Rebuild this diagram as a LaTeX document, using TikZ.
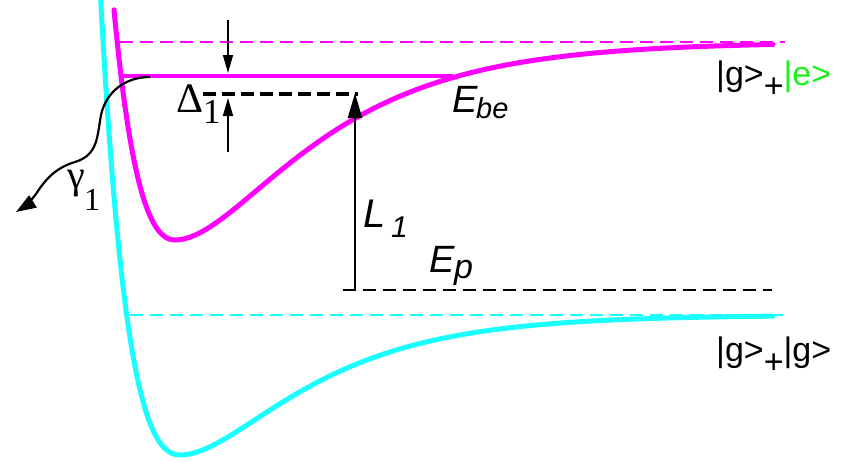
\documentclass[tikz,border=0pt]{standalone}
\usepackage{fontspec}
\setmainfont{Liberation Sans}
\newfontfamily\serifgr{Liberation Serif}
\usetikzlibrary{arrows.meta}
\definecolor{mag}{rgb}{1,0,1}
\definecolor{cyn}{rgb}{0.1,1,1}
\definecolor{grn}{rgb}{0.1,0.95,0.1}
\tikzset{
  magcurve/.style={draw=mag, line width=5pt, line join=round, line cap=round},
  cyancurve/.style={draw=cyn, line width=5pt, line join=round, line cap=round},
  dsh/.style={dash pattern=on 13pt off 7pt},
  arr/.style={-{Triangle[length=18pt,width=10pt]}, line width=1.5pt},
  bigarr/.style={-{Triangle[length=25pt,width=14pt]}, line width=2pt},
  lbl/.style={inner sep=0pt, anchor=base west},
  fs/.style={font=\fontsize{#1}{#1}\selectfont},
  fi/.style={font=\itshape\fontsize{#1}{#1}\selectfont},
  fg/.style={font=\serifgr\fontsize{#1}{#1}\selectfont},
}
\begin{document}
\begin{tikzpicture}[x=1pt,y=-1pt]
\useasboundingbox (0,0) rectangle (841,461);
% dashed asymptotes
\draw[mag, line width=2pt, dsh] (120,42) coordinate (md1) -- (785,42) coordinate (md2);
\draw[cyn, line width=2pt, dsh] (130,315) coordinate (cd1) -- (785,315) coordinate (cd2);
\draw[black, line width=2pt, dsh] (343,290) coordinate (ep1) -- (772,290) coordinate (ep2);
% cyan curve (ground state potential)
\draw[cyancurve] plot[domain=100.5:180, samples=60] (\x,{455-140*(1-exp(0.013*(180-\x)))^2})
  -- plot[domain=180:773, samples=120] (\x,{455-140*(1-exp(-0.0093*(\x-180)))^2});
% magenta curve (excited state potential)
\draw[magcurve] plot[domain=114:175, samples=60] (\x,{240-198*(1-exp(0.012*(175-\x)))^2})
  -- plot[domain=175:773, samples=120] (\x,{240-198*(1-exp(-0.0085*(\x-175)))^2});
% bound level
\draw[mag, line width=4pt] (122,76) coordinate (bl1) -- (453,76) coordinate (bl2);
% photoassociation level
\draw[black, line width=4pt, dash pattern=on 13pt off 6pt] (203,94) coordinate (pl1) -- (358,94) coordinate (pl2);
% Delta arrows
\coordinate (da1) at (228,20); \coordinate (da2) at (228,73);
\coordinate (ua1) at (228,152); \coordinate (ua2) at (228,98);
\draw[arr] (da1) -- (da2);
\draw[arr] (ua1) -- (ua2);
% L1 arrow
\coordinate (lb) at (355,290); \coordinate (lt) at (355,93);
\draw[black, line width=2pt] (ep1) -- (lb);
\draw[bigarr] (lb) -- (lt);
% gamma wave
\coordinate (g0) at (150,77); \coordinate (gt) at (16,212);
\draw[line width=2.2pt, -{Triangle[length=20pt,width=14pt]}] (g0)
  .. controls (125,77) and (106,92) .. (101,115)
  .. controls (97,137) and (98,155) .. (75,162)
  .. controls (55,168) and (45,180) .. (36,194)
  .. controls (30,202) and (24,207) .. (gt);
% labels
\node[lbl, fg=42] (delta) at (176,112) {\symbol{"0394}};
\node[lbl, fg=35] (delta1) at (203,123) {1};
\node[lbl, fg=40] (gamma) at (67,188) {\symbol{"03B3}};
\node[lbl, fg=32] (gamma1) at (84,210) {1};
\node[lbl, fi=38] (ebe) at (452,112) {E};
\node[lbl, fi=29] (ebe2) at (476,118) {be};
\node[lbl, fi=40] (l1) at (363,227) {L};
\node[lbl, fi=30] (l12) at (391,237) {1};
\node[lbl, fi=38] (ep) at (429,272) {E};
\node[lbl, fi=34] (ep2) at (454,278) {p};
\node[lbl, fs=34] (ge) at (716,85) {|g>\raisebox{-12pt}{+}\textcolor{grn}{|e>}};
\node[lbl, fs=34] (gg) at (716,361) {|g>\raisebox{-12pt}{+}|g>};
\end{tikzpicture}
\end{document}
